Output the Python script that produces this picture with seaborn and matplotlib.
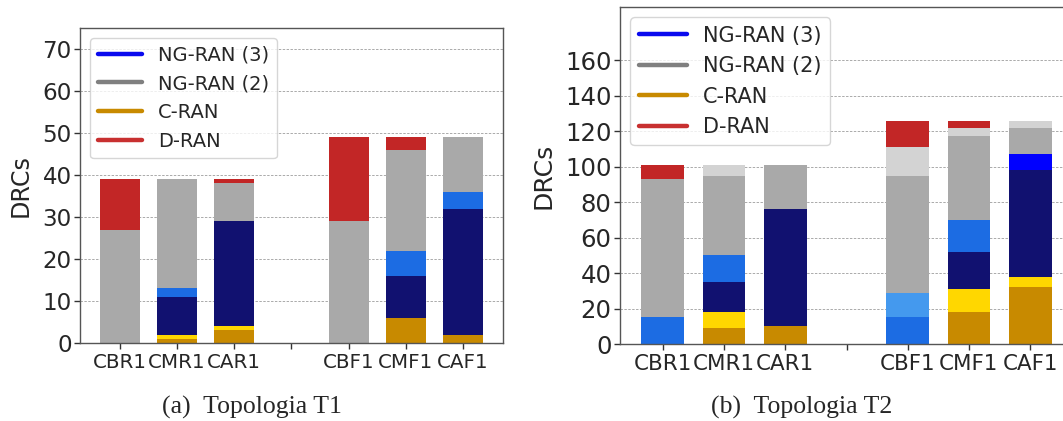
import numpy as np
import pandas as pd
import seaborn as sns
import matplotlib
matplotlib.use("Agg")
import matplotlib.pyplot as plt
from matplotlib.lines import Line2D

# ---------------- data ----------------
categories = ["CBR1", "CMR1", "CAR1", "CBF1", "CMF1", "CAF1"]
order = ["CBR1", "CMR1", "CAR1", " ", "CBF1", "CMF1", "CAF1"]

layer_names = ["C-RAN", "C-RAN extra", "NG-RAN (3) core", "NG-RAN (3) a",
               "NG-RAN (3) b", "NG-RAN (3) c", "NG-RAN (2)", "NG-RAN (2) extra", "D-RAN"]
layer_colors = ["#c88a00", "#ffd700", "#111170", "#1c6ce3",
                "#4499ee", "#0000ff", "#a9a9a9", "#d3d3d3", "#c22626"]

# Topologia T1 (values per layer, per category)
t1_cran      = [0, 1, 3, 0, 6, 2]
t1_cran_x    = [0, 1, 1, 0, 0, 0]
t1_ng3_core  = [0, 9, 25, 0, 10, 30]
t1_ng3_a     = [0, 2, 0, 0, 6, 4]
t1_ng3_b     = [0, 0, 0, 0, 0, 0]
t1_ng3_c     = [0, 0, 0, 0, 0, 0]
t1_ng2       = [27, 26, 9, 29, 24, 13]
t1_ng2_x     = [0, 0, 0, 0, 0, 0]
t1_dran      = [12, 0, 1, 20, 3, 0]

# Topologia T2
t2_cran      = [0, 9, 10, 0, 18, 32]
t2_cran_x    = [0, 9, 0, 0, 13, 6]
t2_ng3_core  = [0, 17, 66, 0, 21, 60]
t2_ng3_a     = [15, 15, 0, 15, 18, 0]
t2_ng3_b     = [0, 0, 0, 14, 0, 0]
t2_ng3_c     = [0, 0, 0, 0, 0, 9]
t2_ng2       = [78, 45, 25, 66, 47, 15]
t2_ng2_x     = [0, 6, 0, 16, 5, 4]
t2_dran      = [8, 0, 0, 15, 4, 0]

t1_layers = [t1_cran, t1_cran_x, t1_ng3_core, t1_ng3_a, t1_ng3_b, t1_ng3_c, t1_ng2, t1_ng2_x, t1_dran]
t2_layers = [t2_cran, t2_cran_x, t2_ng3_core, t2_ng3_a, t2_ng3_b, t2_ng3_c, t2_ng2, t2_ng2_x, t2_dran]

legend_labels = ["NG-RAN (3)", "NG-RAN (2)", "C-RAN", "D-RAN"]
legend_colors = ["#0a0aee", "#808080", "#c88a00", "#c83030"]

captions = ["(a)  Topologia T1", "(b)  Topologia T2"]

# ---------------- style ----------------
sns.set_theme(style="white")
plt.rcParams["font.family"] = ["DejaVu Sans"]

fig = plt.figure(figsize=(10.63, 4.21), dpi=100)
ax1 = fig.add_axes([80 / 1063, 1 - 343 / 421, 423 / 1063, 315 / 421])
ax2 = fig.add_axes([620 / 1063, 1 - 344 / 421, 453 / 1063, 337 / 421])


def draw(ax, layers, ylim, yticks, fs_x, fs_y, fs_leg):
    arr = np.array(layers, dtype=float)
    cum = np.cumsum(arr, axis=0)
    # draw from the top layer down so lower layers overlay
    for i in range(len(layers) - 1, -1, -1):
        if np.all(arr[i] == 0):
            continue
        df = pd.DataFrame({"cat": categories, "val": cum[i]})
        sns.barplot(data=df, x="cat", y="val", order=order, color=layer_colors[i],
                    saturation=1, width=0.7, ax=ax, linewidth=0, edgecolor="none",
                    errorbar=None)
    ax.set_xlim(-0.7, 6.7)
    ax.set_ylim(*ylim)
    ax.set_yticks(yticks)
    ax.set_xlabel("")
    ax.set_ylabel("DRCs", fontsize=fs_y + 0.5, labelpad=7)
    ax.tick_params(axis="x", labelsize=fs_x, bottom=True, length=4, width=1, color="#333333", pad=3)
    ax.tick_params(axis="y", labelsize=fs_y, left=True, length=4, width=1, color="#333333", pad=2)
    ax.yaxis.grid(True, linestyle=(0, (2.5, 1.5)), color="#aaaaaa", linewidth=0.7)
    ax.xaxis.grid(False)
    ax.set_axisbelow(True)
    for s in ax.spines.values():
        s.set_color("#555555")
        s.set_linewidth(1.0)
    handles = [Line2D([0], [0], color=c, lw=3.2) for c in legend_colors]
    ax.legend(handles, legend_labels, loc="upper left", fontsize=fs_leg,
              handlelength=2.3, framealpha=0.8, borderaxespad=0.5)


draw(ax1, t1_layers, (0, 75), np.arange(0, 71, 10), 14.3, 16.6, 14)
draw(ax2, t2_layers, (0, 190), np.arange(0, 161, 20), 15.4, 17.6, 15)

fig.text(252 / 1063, 1 - 407 / 421, captions[0], ha="center", va="center",
         fontsize=18.5, family="Liberation Serif")
fig.text(802 / 1063, 1 - 407 / 421, captions[1], ha="center", va="center",
         fontsize=18.5, family="Liberation Serif")

fig.savefig("out.png", dpi=100)
